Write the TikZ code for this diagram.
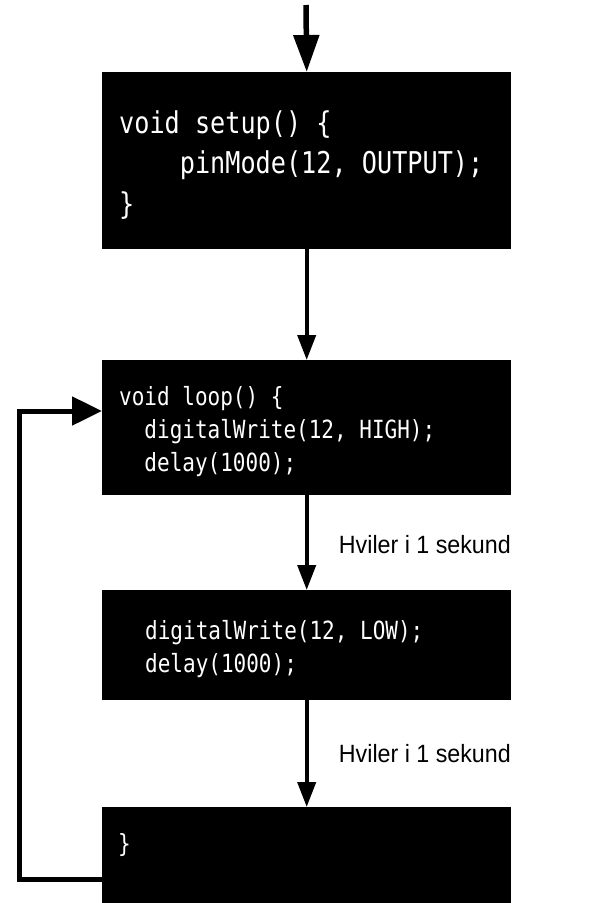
\documentclass[tikz,border=0pt]{standalone}
\usepackage{fontspec}
\usetikzlibrary{arrows.meta}
\newfontfamily\codefont[FakeStretch=0.84]{DejaVu Sans Mono}
\newfontfamily\labelfont[FakeStretch=0.93]{Liberation Sans}
\begin{document}
\begin{tikzpicture}[x=1pt,y=-1pt,
  codebox/.style={rectangle,fill=black,draw=none,inner sep=0pt,minimum width=409pt,anchor=north west},
  bigcode/.style={text=white,anchor=west,align=left,inner sep=0pt,font=\codefont\fontsize{30}{40.5}\selectfont},
  smallcode/.style={text=white,anchor=west,align=left,inner sep=0pt,font=\codefont\fontsize{25}{33}\selectfont},
  sidelabel/.style={anchor=base east,inner sep=0pt,font=\labelfont\fontsize{25}{30}\selectfont},
  toparrow/.style={line width=5.5pt,-{Triangle[length=37pt,width=25pt]}},
  flowarrow/.style={line width=4pt,-{Triangle[length=25pt,width=18pt]}},
  looparrow/.style={line width=5pt,-{Triangle[length=30pt,width=28pt]}}
]
\useasboundingbox (0,0) rectangle (594,903);
\clip (0,0) rectangle (594,903);
\fill[white] (0,0) rectangle (594,903);

\node[codebox,minimum height=177pt] (b1) at (102,72) {};
\node[codebox,minimum height=135pt] (b2) at (102,360) {};
\node[codebox,minimum height=110pt] (b3) at (102,590) {};
\node[codebox,minimum height=118pt] (b4) at (102,807) {};

\node[bigcode] (t1) at ([xshift=17pt,yshift=-4pt]b1.west) {void setup() \{\\\hphantom{0000}pinMode(12, OUTPUT);\\\}};
\node[smallcode] (t2) at ([xshift=17pt,yshift=-4pt]b2.west) {void loop() \{\\\hphantom{00}digitalWrite(12, HIGH);\\\hphantom{00}delay(1000);};
\node[smallcode] (t3) at ([xshift=43pt,yshift=-4pt]b3.west) {digitalWrite(12, LOW);\\delay(1000);};
\node[smallcode] (t4) at (118,845) {\}};

\coordinate (start) at (306,5);
\draw[toparrow] (start) -- (b1.north);
\draw[flowarrow] (b1.south) -- (b2.north);
\draw[flowarrow] (b2.south) -- (b3.north);
\draw[flowarrow] (b3.south) -- (b4.north);

\node[sidelabel] (l1) at (511,553) {Hviler i 1 sekund};
\node[sidelabel] (l2) at (511,762) {Hviler i 1 sekund};

\coordinate (c1) at (19,879);
\coordinate (c2) at (19,411);
\draw[looparrow] (c1 -| b4.west) -- (c1) -- (c2) -- (c2 -| b2.west);
\end{tikzpicture}
\end{document}
